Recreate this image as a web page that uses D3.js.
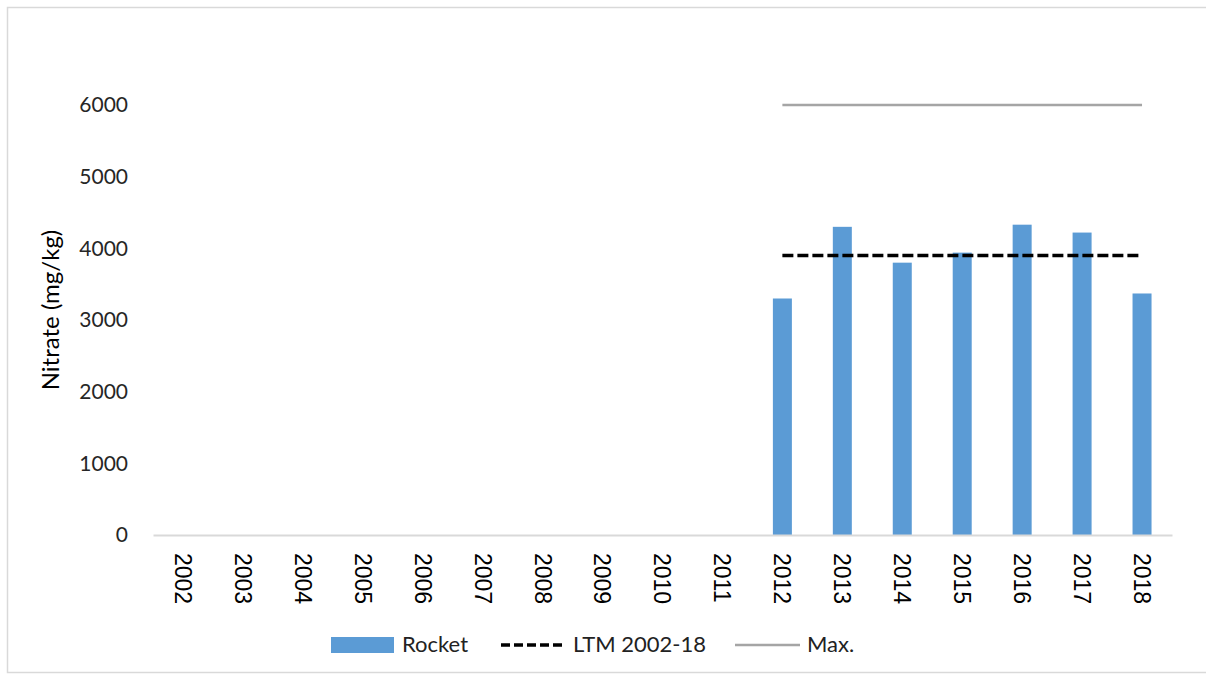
<!DOCTYPE html>
<html><head><meta charset="utf-8">
<script src="https://cdn.jsdelivr.net/npm/d3@7"></script>
<style>body{margin:0;background:#fff}svg{display:block}</style>
</head><body>
<svg id="c" width="1206" height="679"></svg>
<script>
const years = ["2002","2003","2004","2005","2006","2007","2008","2009","2010","2011","2012","2013","2014","2015","2016","2017","2018"];
const rocket = [null,null,null,null,null,null,null,null,null,null,3300,4300,3800,3940,4330,4220,3370];
const ltm = [null,null,null,null,null,null,null,null,null,null,3900,3900,3900,3900,3900,3900,3900];
const maxVal = [null,null,null,null,null,null,null,null,null,null,6000,6000,6000,6000,6000,6000,6000];
const yTicks = [0,1000,2000,3000,4000,5000,6000];
const seriesNames = ["Rocket","LTM 2002-18","Max."];

const svg = d3.select("#c");
svg.append("rect").attr("x",7.5).attr("y",7.5).attr("width",1210).attr("height",665)
  .attr("fill","#fff").attr("stroke","#d9d9d9").attr("stroke-width",1.5);

const L=153, R=1172, T=105, B=535;
const x = d3.scaleBand().domain(years).range([L,R]);
const y = d3.scaleLinear().domain([0,6000]).range([B,T]);

// y axis labels
const ya = svg.append("g").attr("transform",`translate(${L-25},0)`)
  .call(d3.axisLeft(y).tickValues(yTicks).tickSize(0).tickFormat(d3.format("d")));
ya.select(".domain").remove();
ya.selectAll("text").attr("font-family","Lato, 'Open Sans', sans-serif").attr("font-size",21).attr("fill","#262626").attr("x",0);

// bars
const bw = 19;
svg.append("g").selectAll("rect").data(years.map((d,i)=>({year:d,v:rocket[i]})).filter(d=>d.v!=null))
  .join("rect")
  .attr("x",d=>x(d.year)+x.bandwidth()/2-bw/2).attr("width",bw)
  .attr("y",d=>y(d.v)).attr("height",d=>B-y(d.v))
  .attr("fill","#5b9bd5");

// x axis
const xa = svg.append("g").attr("transform",`translate(0,${B})`)
  .call(d3.axisBottom(x).tickSize(0));
xa.select(".domain").attr("stroke","#d9d9d9").attr("stroke-width",2);
xa.selectAll("text").attr("font-family","'Liberation Sans', Arial, sans-serif").attr("font-size",23).attr("fill","#000")
  .attr("transform","rotate(90)").attr("text-anchor","start").attr("x",18).attr("y",0).attr("dy","0.35em");

// lines
const line = d3.line().defined(d=>d.v!=null).x(d=>x(d.year)+x.bandwidth()/2).y(d=>y(d.v));
svg.append("path").datum(years.map((d,i)=>({year:d,v:maxVal[i]})))
  .attr("d",line).attr("fill","none").attr("stroke","#a5a5a5").attr("stroke-width",2.5);
svg.append("path").datum(years.map((d,i)=>({year:d,v:ltm[i]})))
  .attr("d",line).attr("fill","none").attr("stroke","#000").attr("stroke-width",3.5).attr("stroke-dasharray","11,4");

// y title
svg.append("text").attr("transform","translate(59,310) rotate(-90)").attr("text-anchor","middle")
  .attr("font-family","Lato, 'Open Sans', sans-serif").attr("font-size",24).attr("fill","#000").text("Nitrate (mg/kg)");

// legend
const lg = svg.append("g").attr("font-family","Lato, 'Open Sans', sans-serif").attr("font-size",22).attr("fill","#222");
lg.append("rect").attr("x",331).attr("y",637).attr("width",63).attr("height",16).attr("fill","#5b9bd5");
lg.append("text").attr("x",402).attr("y",652).text(seriesNames[0]);
lg.append("line").attr("x1",501).attr("x2",566).attr("y1",645).attr("y2",645).attr("stroke","#000").attr("stroke-width",3.5).attr("stroke-dasharray","9,4");
lg.append("text").attr("x",573).attr("y",652).text(seriesNames[1]);
lg.append("line").attr("x1",735).attr("x2",800).attr("y1",645).attr("y2",645).attr("stroke","#a5a5a5").attr("stroke-width",2.5);
lg.append("text").attr("x",807).attr("y",652).text(seriesNames[2]);
</script>
</body></html>
